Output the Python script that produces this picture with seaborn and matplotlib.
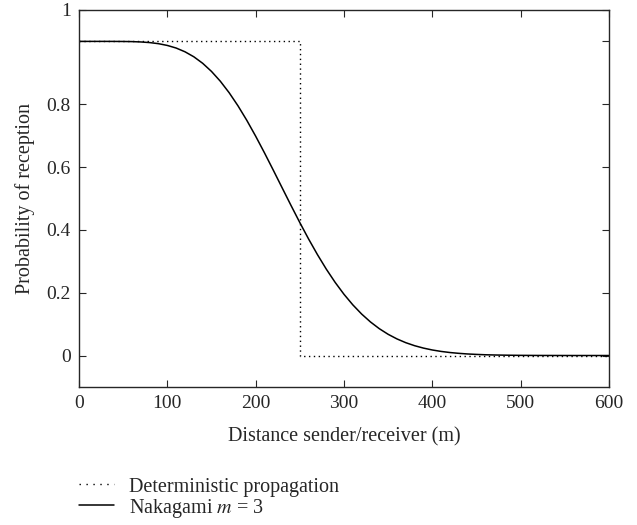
import pandas as pd
import seaborn as sns
import matplotlib.pyplot as plt
import matplotlib.lines as mlines

# distance (m) and reception probability
distance = [0, 10, 20, 30, 40, 50, 60, 70, 80, 90, 100, 110, 120, 130, 140, 150,
            160, 170, 180, 190, 200, 210, 220, 230, 240, 250, 260, 270, 280, 290,
            300, 310, 320, 330, 340, 350, 360, 370, 380, 390, 400, 410, 420, 430,
            440, 450, 460, 470, 480, 490, 500, 520, 540, 560, 580, 600]
nakagami = [1.0, 1.0, 1.0, 1.0, 0.9999, 0.9997, 0.9993, 0.9982, 0.9962, 0.9927,
            0.9871, 0.9788, 0.9669, 0.9510, 0.9303, 0.9044, 0.8732, 0.8366,
            0.7949, 0.7486, 0.6983, 0.6451, 0.5899, 0.5338, 0.4779, 0.4232,
            0.3706, 0.3210, 0.2749, 0.2328, 0.1949, 0.1613, 0.1320, 0.1068,
            0.0854, 0.0675, 0.0528, 0.0408, 0.0312, 0.0236, 0.0176, 0.0130,
            0.0095, 0.0069, 0.0049, 0.0035, 0.0024, 0.0017, 0.0012, 0.0008,
            0.0005, 0.0002, 0.0001, 0.0, 0.0, 0.0]

det_distance = [0, 250, 250, 600]
det_prob = [1.0, 1.0, 0.0, 0.0]

sns.set_style('ticks')
plt.rcParams['font.family'] = ['Liberation Serif', 'DejaVu Serif']
plt.rcParams['mathtext.fontset'] = 'stix'
fs = 14
lfs = 14.5

fig = plt.figure(figsize=(6.37, 5.25), dpi=100)
ax = fig.add_axes([0.124, 0.263, 0.832, 0.718])

df_det = pd.DataFrame({'d': det_distance, 'p': det_prob})
df_nak = pd.DataFrame({'d': distance, 'p': nakagami})

sns.lineplot(x='d', y='p', data=df_det, ax=ax, estimator=None, sort=False,
             color='black', linewidth=1.0, linestyle=(0, (1, 2.5)))
sns.lineplot(x='d', y='p', data=df_nak, ax=ax, estimator=None,
             color='black', linewidth=1.1)

ax.set_xlim(0, 600)
ax.set_ylim(-0.1, 1.1)
ax.set_xticks([0, 100, 200, 300, 400, 500, 600])
ax.set_yticks([0, 0.2, 0.4, 0.6, 0.8, 1.0, 1.1])
ax.set_yticklabels(['0', '0.2', '0.4', '0.6', '0.8', '', '1'])
ax.tick_params(direction='in', top=True, right=True, length=5, width=0.8,
               labelsize=fs, pad=6)
for s in ax.spines.values():
    s.set_linewidth(1.0)
ax.set_xlabel('Distance sender/receiver (m)', fontsize=lfs, labelpad=11)
ax.set_ylabel('Probability of reception', fontsize=lfs, labelpad=8)

h1 = mlines.Line2D([], [], color='black', linewidth=1.0, linestyle=(0, (1, 4)))
h2 = mlines.Line2D([], [], color='black', linewidth=1.1)
fig.legend([h1, h2], ['Deterministic propagation', 'Nakagami $m$ = 3'],
           loc='upper left', bbox_to_anchor=(0.112, 0.106), frameon=False,
           handlelength=1.7, handletextpad=0.75, labelspacing=0.0,
           fontsize=lfs, borderaxespad=0)

fig.savefig('out.png', dpi=100)
